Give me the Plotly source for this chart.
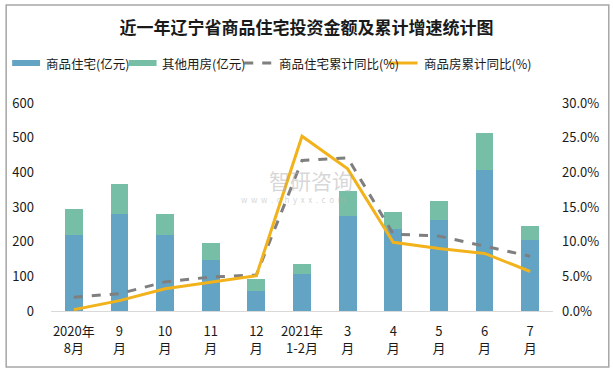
import plotly.graph_objects as go

categories = ["2020年<br>8月", "9<br>月", "10<br>月", "11<br>月", "12<br>月", "2021年<br>1-2月",
              "3<br>月", "4<br>月", "5<br>月", "6<br>月", "7<br>月"]
residential = [219, 280, 219, 147, 58, 107, 274, 236, 262, 406, 205]
other = [75, 86, 61, 49, 34, 28, 72, 49, 55, 107, 40]
res_growth = [2.0, 2.5, 4.2, 4.9, 5.2, 21.7, 22.1, 11.1, 10.8, 9.3, 7.9]
house_growth = [0.2, 1.5, 3.2, 4.2, 5.1, 25.2, 20.5, 9.9, 9.0, 8.3, 5.7]
left_ticks = [0, 100, 200, 300, 400, 500, 600]
right_ticks = [0, 5, 10, 15, 20, 25, 30]
series_names = ["商品住宅(亿元)", "其他用房(亿元)", "商品住宅累计同比(%)", "商品房累计同比(%)"]
series_colors = ["#63a3c3", "#76bfa6", "#7f7f7f", "#f2b21c"]

W, H = 613, 373
L, R, T, B = 49, 60, 103, 62
pw, ph = W - L - R, H - T - B

font = "Noto Sans CJK SC"

fig = go.Figure()
fig.add_trace(go.Bar(x=categories, y=residential, name=series_names[0],
                     marker=dict(color=series_colors[0], line=dict(width=0)), width=0.39))
fig.add_trace(go.Bar(x=categories, y=other, name=series_names[1],
                     marker=dict(color=series_colors[1], line=dict(width=0)), width=0.39))
fig.add_trace(go.Scatter(x=categories, y=res_growth, name=series_names[2], yaxis="y2",
                         mode="lines", line=dict(color=series_colors[2], width=3, dash="dash")))
fig.add_trace(go.Scatter(x=categories, y=house_growth, name=series_names[3], yaxis="y2",
                         mode="lines", line=dict(color=series_colors[3], width=3)))

def px(x):
    return (x - L) / pw

def py(y):
    return (H - B - y) / ph

# chart frame
fig.add_shape(type="rect", xref="paper", yref="paper",
              x0=px(4), x1=px(609), y0=py(5), y1=py(367),
              line=dict(color="#a6a6a6", width=1.5), layer="below")

# legend drawn manually (single row like the reference)
legend_y = 63
sym_x = [10, 127, 243, 388]
txt_x = [42, 158, 276, 421]
for i in range(4):
    if i < 2:
        fig.add_shape(type="rect", xref="paper", yref="paper",
                      x0=px(sym_x[i]), x1=px(sym_x[i] + 28),
                      y0=py(legend_y - 3), y1=py(legend_y + 3),
                      fillcolor=series_colors[i], line=dict(width=0))
    else:
        fig.add_shape(type="line", xref="paper", yref="paper",
                      x0=px(sym_x[i]), x1=px(sym_x[i] + 29),
                      y0=py(legend_y), y1=py(legend_y),
                      line=dict(color=series_colors[i], width=3,
                                dash="dash" if i == 2 else "solid"))
    fig.add_annotation(xref="paper", yref="paper", x=px(txt_x[i]), y=py(legend_y),
                       xanchor="left", yanchor="middle", text=series_names[i], showarrow=False,
                       font=dict(family=font, size=12.5, color="#1a1a1a"))

# watermark
fig.add_annotation(xref="paper", yref="paper", x=px(310), y=py(180), text="智研咨询",
                   showarrow=False, font=dict(family=font, size=21, color="rgba(175,175,175,0.5)"))
fig.add_annotation(xref="paper", yref="paper", x=px(292), y=py(199),
                   text="w  w  w  .  c  h  y  x  x  .  c  o  m",
                   showarrow=False, font=dict(family=font, size=8, color="rgba(175,175,175,0.55)"))

fig.update_layout(
    width=W, height=H,
    margin=dict(l=L, r=R, t=T, b=B),
    paper_bgcolor="white", plot_bgcolor="white",
    barmode="stack",
    showlegend=False,
    title=dict(text="<b>近一年辽宁省商品住宅投资金额及累计增速统计图</b>", x=0.5, xanchor="center",
               y=1 - 28 / H, yanchor="middle",
               font=dict(family=font, size=17, color="#1a1a1a")),
    xaxis=dict(showline=True, linecolor="#d9d9d9", linewidth=1, ticks="", showgrid=False,
               tickfont=dict(family=font, size=13, color="#1a1a1a"), ticklabelstandoff=8),
    yaxis=dict(range=[0, 600], tickvals=left_ticks, showgrid=False, zeroline=False, showline=False,
               tickfont=dict(family=font, size=13, color="#1a1a1a"), ticklabelstandoff=16),
    yaxis2=dict(range=[0, 30], tickvals=right_ticks, ticktext=[f"{v:.1f}%" for v in right_ticks],
                overlaying="y", side="right", showgrid=False, zeroline=False, showline=False,
                tickfont=dict(family=font, size=13, color="#1a1a1a"), ticklabelstandoff=8),
)

fig.write_html("out.html", config={"displayModeBar": False},
               post_script="document.body.style.margin='0';")
